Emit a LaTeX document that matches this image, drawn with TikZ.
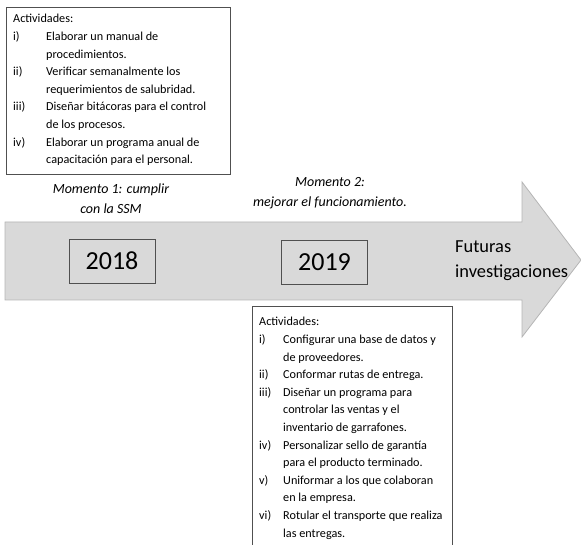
\documentclass[tikz,border=0pt]{standalone}
\usepackage{fontspec}
\setmainfont{Carlito}
\usepackage{array}
\definecolor{arrowgray}{HTML}{D9D9D9}
\definecolor{arrowedge}{HTML}{B5B5B5}
\definecolor{frame}{HTML}{505050}
\tikzset{
  actbox/.style={draw=frame, line width=0.9pt, fill=white, inner sep=0pt, anchor=north west},
  yearbox/.style={draw=frame, line width=0.9pt, fill=arrowgray, minimum width=86pt, minimum height=44pt,
    inner sep=0pt, font=\fontsize{26}{30}\selectfont},
  acttext/.style={anchor=base west, inner sep=0pt, font=\fontsize{12.2}{17.6}\selectfont},
  moment/.style={anchor=base, inner sep=0pt, font=\fontsize{14}{20}\selectfont\itshape},
  future/.style={anchor=base west, inner sep=0pt, font=\fontsize{18.4}{24.5}\selectfont}
}
\begin{document}
\begin{tikzpicture}[x=1pt,y=-1pt]
\useasboundingbox (0,0) rectangle (581,545);

% timeline arrow
\draw[fill=arrowgray, draw=arrowedge, line width=0.8pt, line join=miter]
  (5,222) -- (522,222) -- (522,182) -- (581,260) -- (522,337) -- (522,300) -- (5,300) -- cycle;

% activity frames
\node[actbox, minimum width=224pt, minimum height=167pt] (act1) at (6,7) {};
\node[actbox, minimum width=200pt, minimum height=240pt] (act2) at (252,306) {};

% activities of the first stage
\node[acttext] (act1text) at (13,23) {%
\begin{tabular}[t]{@{}p{33pt}@{}l@{}}
\multicolumn{2}{@{}l@{}}{Actividades:}\\
i) & Elaborar un manual de\\
   & procedimientos.\\
ii) & Verificar semanalmente los\\
    & requerimientos de salubridad.\\
iii) & Diseñar bitácoras para el control\\
     & de los procesos.\\
iv) & Elaborar un programa anual de\\
    & capacitación para el personal.
\end{tabular}};

% activities of the second stage
\node[acttext] (act2text) at (259,326) {%
\begin{tabular}[t]{@{}p{24pt}@{}l@{}}
\multicolumn{2}{@{}l@{}}{Actividades:}\\
i) & Configurar una base de datos y\\
   & de proveedores.\\
ii) & Conformar rutas de entrega.\\
iii) & Diseñar un programa para\\
     & controlar las ventas y el\\
     & inventario de garrafones.\\
iv) & Personalizar sello de garantía\\
    & para el producto terminado.\\
v) & Uniformar a los que colaboran\\
   & en la empresa.\\
vi) & Rotular el transporte que realiza\\
    & las entregas.
\end{tabular}};

% stage captions
\node[moment] (m1) at (111,194) {%
\begin{tabular}[t]{@{}c@{}}Momento 1: cumplir\\con la SSM\end{tabular}};
\node[moment] (m2) at (330,187) {%
\begin{tabular}[t]{@{}c@{}}Momento 2:\\mejorar el funcionamiento.\end{tabular}};

% years on the timeline
\node[yearbox] (y2018) at (112,261) {2018};
\node[yearbox] (y2019) at (324.5,262) {2019};

% end of the timeline
\node[future] (fut) at (455,253) {%
\begin{tabular}[t]{@{}l@{}}Futuras\\investigaciones\end{tabular}};
\end{tikzpicture}
\end{document}
